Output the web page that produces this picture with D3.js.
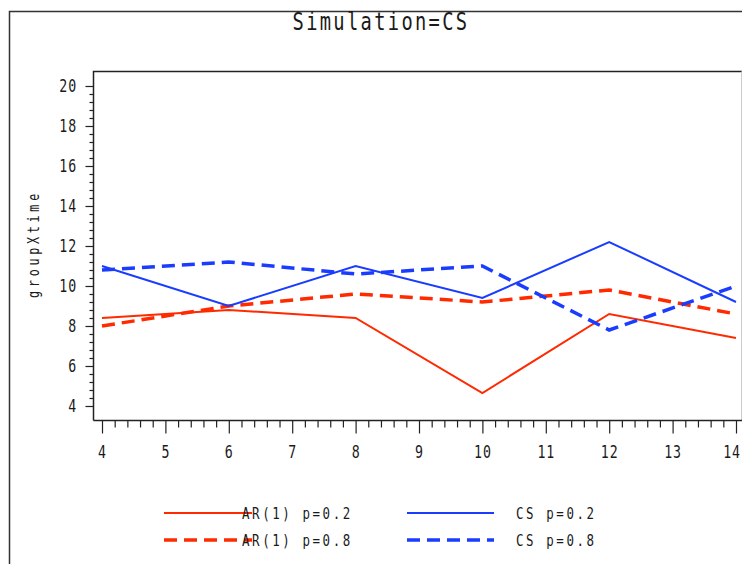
<!DOCTYPE html>
<html>
<head>
<meta charset="utf-8">
<script src="https://cdn.jsdelivr.net/npm/d3@7/dist/d3.min.js"></script>
<style>
  html, body { margin: 0; padding: 0; background: #fff; }
  svg { display: block; }
  text { font-family: "DejaVu Sans Mono", "Liberation Mono", monospace; fill: #1a1a1a; }
</style>
</head>
<body>
<script>
// ---- data ----
const times = [4, 6, 8, 10, 12, 14];
const ar1_p02 = [8.4, 8.8, 8.4, 4.65, 8.6, 7.4];
const ar1_p08 = [8.0, 9.0, 9.6, 9.2, 9.8, 8.6];
const cs_p02  = [11.0, 9.0, 11.0, 9.4, 12.2, 9.2];
const cs_p08  = [10.8, 11.2, 10.6, 11.0, 7.8, 10.0];
const seriesNames = ["AR(1) p=0.2", "AR(1) p=0.8", "CS p=0.2", "CS p=0.8"];
const xTickValues = [4, 5, 6, 7, 8, 9, 10, 11, 12, 13, 14];
const yTickValues = [4, 6, 8, 10, 12, 14, 16, 18, 20];
const titleText = "Simulation=CS";
const yLabel = "groupXtime";

const series = [
  { name: seriesNames[0], values: ar1_p02, color: "#ff2a00", dash: null, width: 2 },
  { name: seriesNames[1], values: ar1_p08, color: "#ff2a00", dash: "13,7", width: 3.5 },
  { name: seriesNames[2], values: cs_p02,  color: "#1a3cff", dash: null, width: 2 },
  { name: seriesNames[3], values: cs_p08,  color: "#1a3cff", dash: "13,7", width: 3.5 }
];

const SX = 0.78; // horizontal squeeze for the narrow plotter-style font
const W = 742, H = 564;
const svg = d3.select("body").append("svg").attr("width", W).attr("height", H);

// outer frame (top and left)
svg.append("path").attr("d", "M9.5,564 V11.5 H742")
  .attr("fill", "none").attr("stroke", "#333").attr("stroke-width", 1.5);

// plot area
const pLeft = 93.5, pRight = 741.5, pTop = 71.5, pBottom = 420.5;
const x = d3.scaleLinear().domain([4, 14]).range([102, 736]);
const y = d3.scaleLinear().domain([4, 20]).range([406, 86]);

// plot box
svg.append("path").attr("d", `M${pLeft},${pBottom} V${pTop} H${W}`)
  .attr("fill", "none").attr("stroke", "#222").attr("stroke-width", 1.5);
svg.append("line").attr("x1", pRight).attr("x2", pRight).attr("y1", pTop).attr("y2", pBottom)
  .attr("stroke", "#ccc").attr("stroke-width", 1);
svg.append("line").attr("x1", pLeft).attr("x2", W).attr("y1", pBottom).attr("y2", pBottom)
  .attr("stroke", "#222").attr("stroke-width", 1.5);

// y axis
const yMinor = d3.range(4, 20.001, 0.4).filter(v => Math.abs(v / 2 - Math.round(v / 2)) > 1e-6);
const yAxisMinor = d3.axisLeft(y).tickValues(yMinor).tickSize(4).tickFormat("");
const yAxisMajor = d3.axisLeft(y).tickValues(yTickValues).tickSize(8).tickPadding(8).tickFormat(d3.format("d"));
const gyMinor = svg.append("g").attr("transform", `translate(${pLeft},0)`).call(yAxisMinor);
const gy = svg.append("g").attr("transform", `translate(${pLeft},0)`).call(yAxisMajor);
[gyMinor, gy].forEach(g => {
  g.select(".domain").remove();
  g.selectAll("line").attr("stroke", "#222").attr("stroke-width", 1.2);
});
gy.selectAll("text")
  .attr("font-size", 17).attr("letter-spacing", 1.5).attr("fill", "#1a1a1a")
  .attr("x", -16 / SX).attr("transform", `scale(${SX},1)`);

// x axis
const xMinor = d3.range(4, 14.001, 0.2).filter(v => Math.abs(v - Math.round(v)) > 1e-6);
const xAxisMinor = d3.axisBottom(x).tickValues(xMinor).tickSize(7).tickFormat("");
const xAxisMajor = d3.axisBottom(x).tickValues(xTickValues).tickSize(13).tickPadding(12).tickFormat(d3.format("d"));
const gxMinor = svg.append("g").attr("transform", `translate(0,${pBottom})`).call(xAxisMinor);
const gx = svg.append("g").attr("transform", `translate(0,${pBottom})`).call(xAxisMajor);
[gxMinor, gx].forEach(g => {
  g.select(".domain").remove();
  g.selectAll("line").attr("stroke", "#222").attr("stroke-width", 1.2);
});
gx.selectAll("text")
  .attr("font-size", 17).attr("letter-spacing", 1.2).attr("fill", "#1a1a1a")
  .attr("transform", `scale(${SX},1)`);
// keep the last label inside the window, as the original does
gx.selectAll("text").each(function () {
  const r = this.getBoundingClientRect();
  if (r.right > W - 1) {
    d3.select(this).attr("dx", -(r.right - (W - 1)) / SX);
  }
});

// lines
const line = d3.line().x((d, i) => x(times[i])).y(d => y(d));
series.forEach(s => {
  svg.append("path").datum(s.values)
    .attr("d", line)
    .attr("fill", "none")
    .attr("stroke", s.color)
    .attr("stroke-width", s.width)
    .attr("stroke-dasharray", s.dash)
    .attr("stroke-linejoin", "miter");
});

// title
svg.append("text").attr("transform", `translate(381,30) scale(${SX},1)`)
  .attr("text-anchor", "middle")
  .attr("font-size", 24).attr("letter-spacing", 3).text(titleText);

// y label
svg.append("text").attr("transform", `translate(39,244) rotate(-90) scale(${SX},1)`)
  .attr("text-anchor", "middle").attr("font-size", 15).attr("letter-spacing", 4.8).text(yLabel);

// legend
const legendPos = [
  { lx: 164, ty: 513 }, { lx: 164, ty: 540 },
  { lx: 407, ty: 513 }, { lx: 407, ty: 540 }
];
series.forEach((s, i) => {
  const p = legendPos[i];
  svg.append("line").attr("x1", p.lx).attr("x2", p.lx + (i < 2 ? 88 : 87))
    .attr("y1", p.ty).attr("y2", p.ty)
    .attr("stroke", s.color).attr("stroke-width", s.width)
    .attr("stroke-dasharray", s.dash);
  svg.append("text")
    .attr("transform", `translate(${i < 2 ? 242 : 516},${p.ty + 6}) scale(${SX},1)`)
    .attr("font-size", 16).attr("letter-spacing", 3.3).text(s.name);
});
</script>
</body>
</html>
